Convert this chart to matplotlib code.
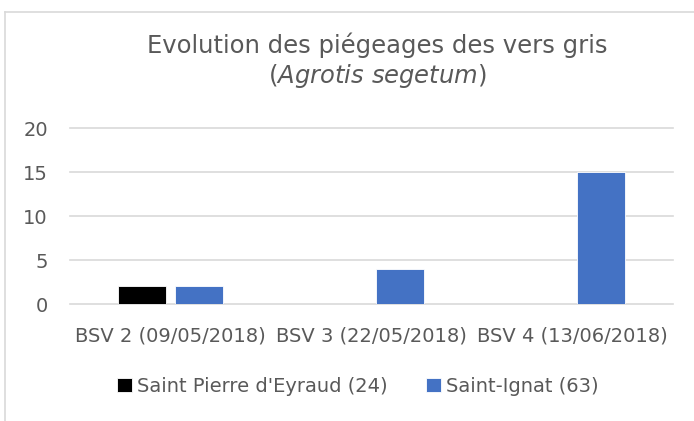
import numpy as np
import matplotlib.pyplot as plt
from matplotlib.lines import Line2D

plt.rcParams['font.family'] = ['DejaVu Sans']
plt.rcParams['mathtext.fontset'] = 'custom'
plt.rcParams['mathtext.rm'] = 'DejaVu Sans'
plt.rcParams['mathtext.it'] = 'DejaVu Sans:italic'

categories = ["BSV 2 (09/05/2018)", "BSV 3 (22/05/2018)", "BSV 4 (13/06/2018)"]
saint_pierre = [2, 0, 0]
saint_ignat = [2, 4, 15]
series_names = ["Saint Pierre d'Eyraud (24)", "Saint-Ignat (63)"]

grey = "#595959"
gridc = "#d9d9d9"

fig = plt.figure(figsize=(6.94, 4.21), dpi=100)
ax = fig.add_axes([70/694, (421-304)/421, (673-70)/694, (304-128)/421])

x = np.arange(len(categories))
w = 0.235
ax.bar(x - 0.142, saint_pierre, w, color="black", edgecolor="white", linewidth=0.6,
       label=series_names[0], zorder=3)
ax.bar(x + 0.142, saint_ignat, w, color="#4472C4", edgecolor="white", linewidth=0.6,
       label=series_names[1], zorder=3)

ax.set_xlim(-0.5, 2.5)
ax.set_ylim(0, 20)
ax.set_yticks([0, 5, 10, 15, 20])
ax.set_xticks(x)
ax.set_xticklabels(categories)
ax.yaxis.grid(True, color=gridc, linewidth=1.2, zorder=0)
for gl in ax.get_ygridlines():
    gl.set_clip_on(False)
ax.set_axisbelow(True)
for s in ax.spines.values():
    s.set_visible(False)
ax.tick_params(length=0, labelsize=14, colors=grey, pad=16)
ax.tick_params(axis='y', pad=16)

fig.text(377/694, (421-45)/421, "Evolution des piégeages des vers gris",
         ha="center", va="center", fontsize=17.5, color=grey)
fig.text(377/694, (421-76)/421, r"($\mathit{Agrotis\ segetum}$)",
         ha="center", va="center", fontsize=17.5, color=grey)

leg = fig.legend(loc="center", bbox_to_anchor=(358/694, (421-386)/421), ncol=2,
                 frameon=False, fontsize=14, handlelength=0.75, handleheight=0.75,
                 handletextpad=0.25, columnspacing=2.0)
for t in leg.get_texts():
    t.set_color(grey)

# outer chart frame (only top and left visible)
fig.add_artist(Line2D([5/694, 5/694], [0, (421-12)/421], color=gridc, linewidth=1.2,
                      transform=fig.transFigure))
fig.add_artist(Line2D([5/694, 1], [(421-12)/421, (421-12)/421], color=gridc, linewidth=1.2,
                      transform=fig.transFigure))

fig.savefig("out.png", dpi=100)
